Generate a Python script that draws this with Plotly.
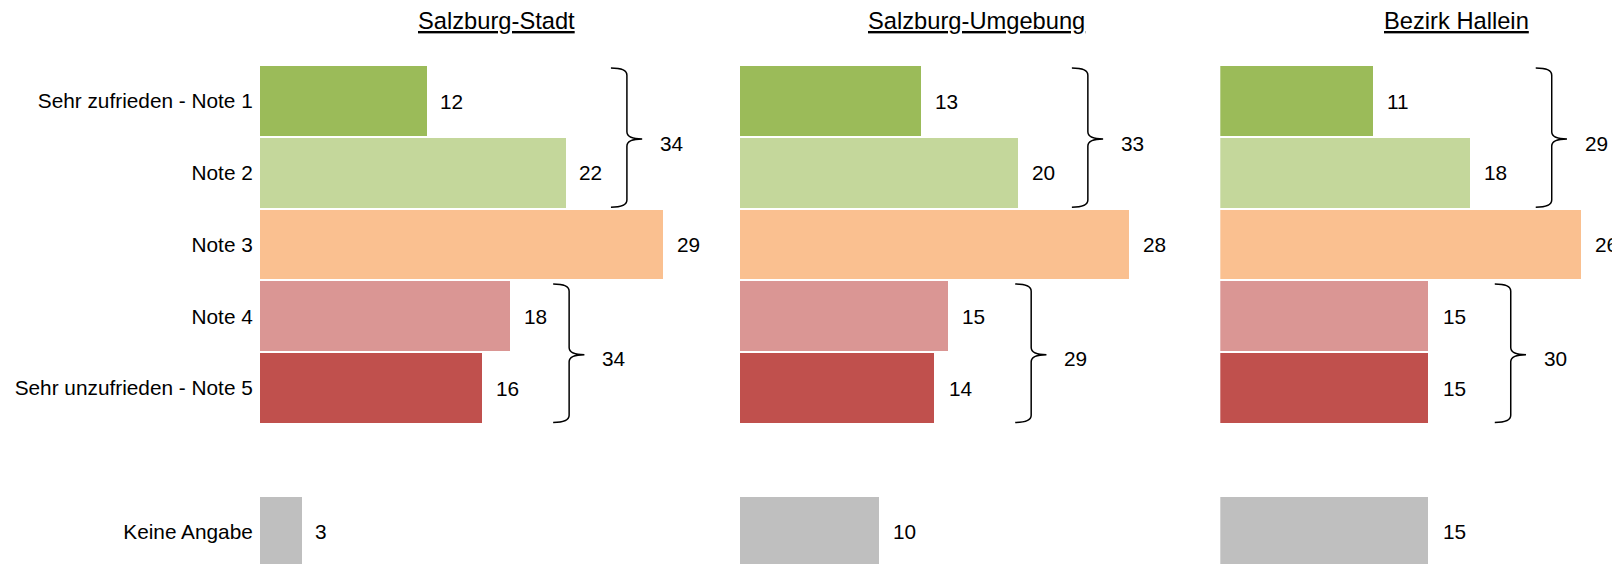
import plotly.graph_objects as go

# data
regions = ["Salzburg-Stadt", "Salzburg-Umgebung", "Bezirk Hallein"]
categories = ["Sehr zufrieden - Note 1", "Note 2", "Note 3", "Note 4",
              "Sehr unzufrieden - Note 5", "Keine Angabe"]
cat_pos = [0, 1, 2, 3, 4, 6]
stadt = [12, 22, 29, 18, 16, 3]
umgebung = [13, 20, 28, 15, 14, 10]
hallein = [11, 18, 26, 15, 15, 15]
top_sums = [34, 33, 29]      # Note 1 + Note 2
bottom_sums = [34, 29, 30]   # Note 4 + Note 5

values = [stadt, umgebung, hallein]
bar_colors = ['#9BBB59', '#C4D79B', '#FAC090', '#DA9694', '#C0504D', '#BFBFBF']

# layout constants (pixels, figure coordinates; page body adds 8px offset)
W, H = 1620, 564
PX_PER_UNIT = 13.89
LEFT0, STEP, PANEL_W = 251.8, 480.25, 470
ROW0, PITCH = 93, 71.75
TITLE_Y = 13
FONT = "Liberation Sans, Arial, sans-serif"

# brace line positions per panel (x units): top pair, bottom pair
brace_top_x = [26.43, 25.04, 23.86]
brace_bot_x = [22.27, 20.96, 20.91]
HOOK, TIP, R = 1.15, 1.1, 0.1


def brace_path(x, y0, y1):
    mid = (y0 + y1) / 2 + 0.02
    xl = x - HOOK
    xt = x + TIP
    return (f"M {xl},{y0} Q {x},{y0} {x},{y0 + R} L {x},{mid - R} "
            f"Q {x},{mid} {xt},{mid} Q {x},{mid} {x},{mid + R} "
            f"L {x},{y1 - R} Q {x},{y1} {xl},{y1}")


fig = go.Figure()
annotations = []
shapes = []
layout_axes = {}

for k, (name, vals) in enumerate(zip(regions, values)):
    xa = 'x' if k == 0 else f'x{k + 1}'
    left = LEFT0 + k * STEP
    right = min(W, left + PANEL_W)
    width_px = right - left
    fig.add_trace(go.Bar(
        x=vals, y=cat_pos, orientation='h', width=0.975,
        marker=dict(color=bar_colors, line=dict(width=0)),
        xaxis=xa, yaxis='y', showlegend=False, hoverinfo='x'
    ))
    layout_axes['xaxis' if k == 0 else f'xaxis{k + 1}'] = dict(
        domain=[left / W, right / W], range=[0, width_px / PX_PER_UNIT],
        visible=False, anchor='y', fixedrange=True
    )
    # value labels
    for v, p in zip(vals, cat_pos):
        annotations.append(dict(
            x=v, y=p, xref=xa, yref='y', text=str(v), showarrow=False,
            xanchor='left', yanchor='middle', xshift=12,
            font=dict(size=20.8, color='black', family=FONT)
        ))
    # panel title
    annotations.append(dict(
        x=(left + 236.5) / W, y=1 - TITLE_Y / H, xref='paper', yref='paper',
        text=f"<u>{name}</u>", showarrow=False, xanchor='center', yanchor='middle',
        font=dict(size=23.7, color='black', family=FONT)
    ))
    # braces + sums
    for bx, (y0, y1), s in [(brace_top_x[k], (-0.46, 1.48), top_sums[k]),
                            (brace_bot_x[k], (2.55, 4.48), bottom_sums[k])]:
        shapes.append(dict(type='path', path=brace_path(bx, y0, y1),
                           xref=xa, yref='y', line=dict(color='black', width=1.5)))
        annotations.append(dict(
            x=bx, y=(y0 + y1) / 2 + 0.08, xref=xa, yref='y', text=str(s),
            showarrow=False, xanchor='left', yanchor='middle', xshift=31,
            font=dict(size=20.8, color='black', family=FONT)
        ))

fig.update_layout(
    width=W, height=H,
    margin=dict(l=0, r=0, t=0, b=0),
    paper_bgcolor='white', plot_bgcolor='white',
    font=dict(family=FONT, size=20.8, color='black'),
    yaxis=dict(
        domain=[0, 1], range=[(H - ROW0) / PITCH, -ROW0 / PITCH],
        tickvals=cat_pos, ticktext=categories, showgrid=False, zeroline=False,
        showline=False, ticks='', ticklabelstandoff=6, anchor='x',
        tickfont=dict(size=20.8, color='black', family=FONT), fixedrange=True
    ),
    annotations=annotations,
    shapes=shapes,
    bargap=0,
    **layout_axes
)

fig.write_html("out.html")
